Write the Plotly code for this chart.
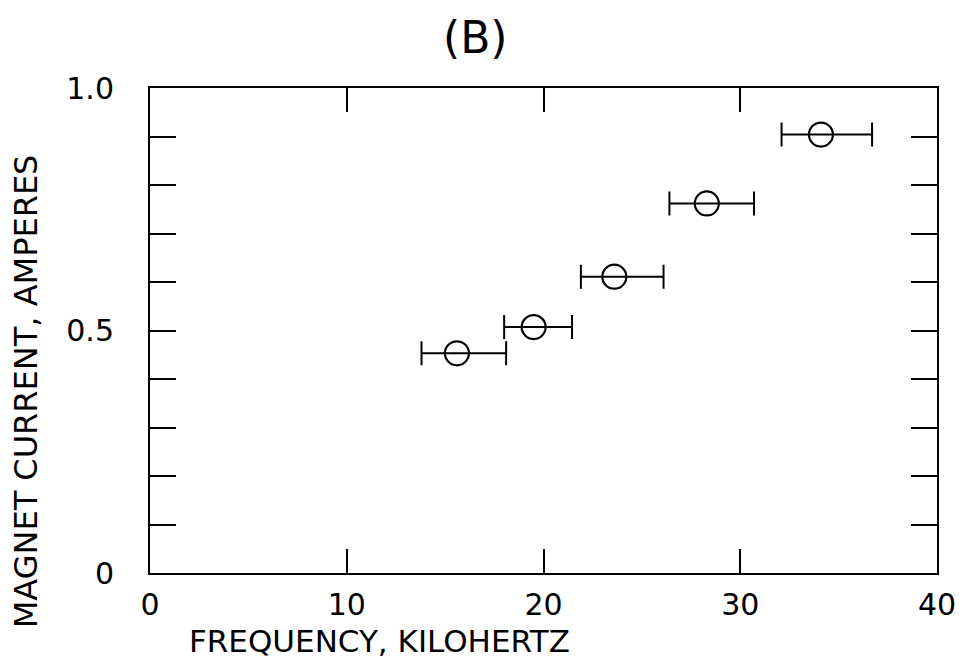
import plotly.graph_objects as go

# Data
freq_khz = [15.6, 19.5, 23.6, 28.3, 34.1]
current_a = [0.453, 0.507, 0.611, 0.762, 0.904]
err_plus = [2.5, 1.95, 2.5, 2.4, 2.6]
err_minus = [1.8, 1.5, 1.7, 1.9, 2.0]

x_tickvals = [0, 10, 20, 30, 40]
x_ticktext = ["0", "10", "20", "30", "40"]
y_tickvals = [0, 0.1, 0.2, 0.3, 0.4, 0.5, 0.6, 0.7, 0.8, 0.9, 1.0]
y_ticktext = ["0", "", "", "", "", "0.5", "", "", "", "", "1.0"]

FONT = "DejaVu Sans"

fig = go.Figure()
fig.add_trace(go.Scatter(
    x=freq_khz, y=current_a, mode="markers",
    marker=dict(symbol="circle-open", size=24, color="black", line=dict(width=2.2, color="black")),
    error_x=dict(type="data", symmetric=False, array=err_plus, arrayminus=err_minus,
                 color="black", thickness=2, width=12),
    showlegend=False,
))

fig.update_layout(
    width=968, height=667,
    margin=dict(l=150, r=26, t=88, b=94),
    paper_bgcolor="white", plot_bgcolor="white",
    font=dict(family=FONT, color="black"),
    xaxis=dict(range=[0, 40], tickvals=x_tickvals, ticktext=x_ticktext,
               ticks="inside", ticklen=24, tickwidth=2, tickcolor="black",
               showline=True, linecolor="black", linewidth=2, mirror="allticks",
               showgrid=False, zeroline=False, ticklabelstandoff=4,
               tickfont=dict(family=FONT, size=30, color="black")),
    yaxis=dict(range=[0, 1.0], tickvals=y_tickvals, ticktext=y_ticktext,
               ticks="inside", ticklen=26, tickwidth=2, tickcolor="black",
               showline=True, linecolor="black", linewidth=2, mirror="allticks",
               showgrid=False, zeroline=False, ticklabelstandoff=28,
               tickfont=dict(family=FONT, size=30, color="black")),
    annotations=[
        dict(text="FREQUENCY, KILOHERTZ", xref="paper", yref="paper", x=0.292, y=-0.14,
             showarrow=False, font=dict(family=FONT, size=31, color="black"),
             xanchor="center", yanchor="middle"),
        dict(text="MAGNET CURRENT, AMPERES", xref="paper", yref="paper", x=-0.158, y=0.374,
             textangle=-90, showarrow=False, font=dict(family=FONT, size=32, color="black"),
             xanchor="center", yanchor="middle"),
        dict(text="(B)", xref="paper", yref="paper", x=0.414, y=1.105,
             showarrow=False, font=dict(family=FONT, size=44, color="black"),
             xanchor="center", yanchor="middle"),
    ],
)

fig.write_html("out.html")
